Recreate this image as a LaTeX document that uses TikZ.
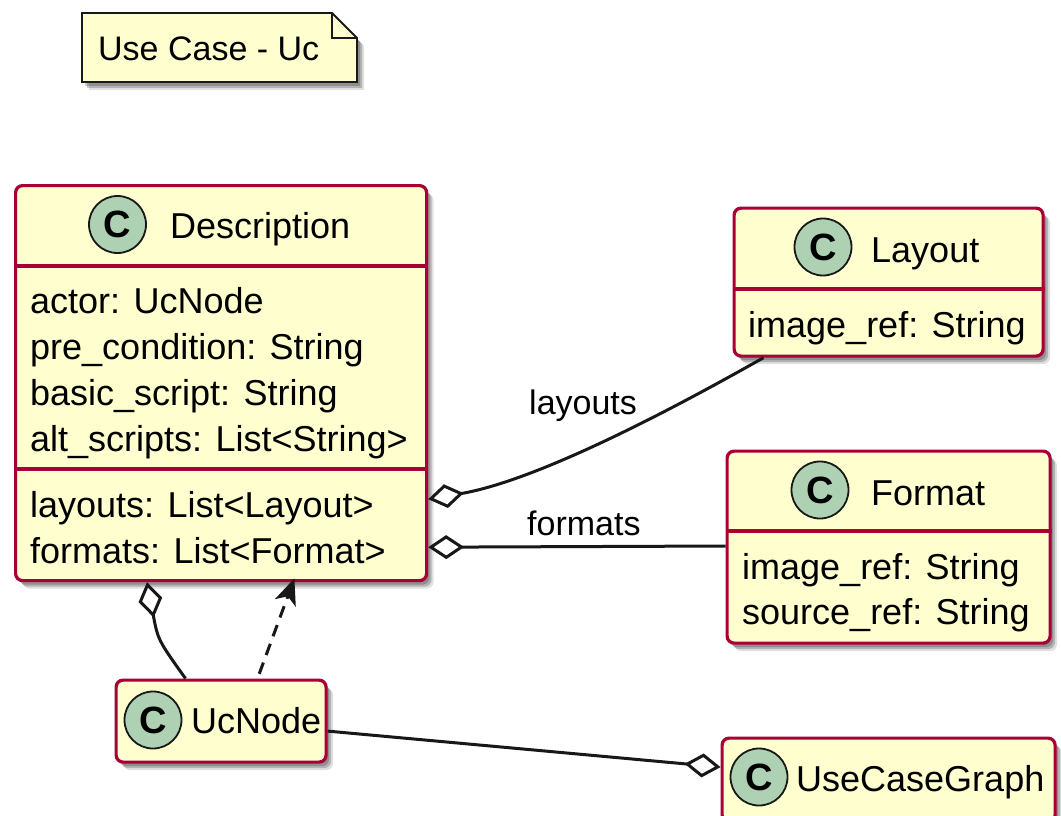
\documentclass[tikz,border=0pt]{standalone}
\usepackage{fontspec}
\setmainfont{Liberation Sans}
\usetikzlibrary{arrows.meta,shadows,calc}
\definecolor{clsfill}{HTML}{FEFECE}
\definecolor{clsborder}{HTML}{A80036}
\definecolor{badgefill}{HTML}{ADD1B2}
\definecolor{ink}{HTML}{181818}
\begin{document}
\begin{tikzpicture}[x=1pt,y=-1pt,
  shade/.style={drop shadow={shadow xshift=7pt,shadow yshift=-8pt,opacity=0.12,fill=black},
                drop shadow={shadow xshift=5pt,shadow yshift=-6pt,opacity=0.2,fill=black},
                drop shadow={shadow xshift=3pt,shadow yshift=-4pt,opacity=0.2,fill=black}},
  classbox/.style={draw=clsborder, line width=3.2pt, fill=clsfill, rounded corners=7pt,
    inner sep=0pt, anchor=north west, shade},
  sepline/.style={draw=clsborder, line width=3.2pt},
  badge/.style={circle, draw=ink, line width=1.8pt, fill=badgefill, minimum size=57pt,
    inner sep=0pt, font=\fontsize{38}{38}\selectfont\bfseries},
  txt/.style={anchor=base west, inner sep=0pt, font=\fontsize{36}{44}\selectfont},
  lbl/.style={anchor=base west, inner sep=0pt, font=\fontsize{34}{40}\selectfont},
  conn/.style={draw=ink, line width=3pt},
  aggstart/.style={conn, {Diamond[open,length=36pt,width=24pt]}-},
  aggend/.style={conn, -{Diamond[open,length=36pt,width=24pt]}},
  depend/.style={conn, dashed, dash pattern=on 12pt off 8pt, -{Stealth[length=26pt,width=22pt,inset=7pt]}}
]
\clip (0,0) rectangle (1061,816);
\fill[white] (0,0) rectangle (1061,816);

% note
\draw[ink, line width=1.8pt, fill=clsfill, shade]
  (82,13) -- (332,13) -- (357,38) -- (357,82) -- (82,82) -- cycle;
\draw[ink, line width=1.8pt] (332,13) -- (332,38) -- (357,38);
\node[lbl] (note) at (98,61) {Use Case - Uc};

% Description
\node[classbox, minimum width=411pt, minimum height=395pt] (desc) at (14,184) {};
\draw[sepline] (desc.west |- 0,266) -- (desc.east |- 0,266);
\draw[sepline] (desc.west |- 0,469) -- (desc.east |- 0,469);
\node[badge] (descC) at (117.5,224.5) {C};
\node[txt] (descT) at (170,238) {Description};
\node[txt] (a1) at (30,313) {actor: UcNode};
\node[txt] (a2) at (30,359) {pre\_condition: String};
\node[txt] (a3) at (30,405) {basic\_script: String};
\node[txt] (a4) at (30,451) {alt\_scripts: List<String>};
\node[txt] (a5) at (30,517) {layouts: List<Layout>};
\node[txt] (a6) at (30,563) {formats: List<Format>};

% Layout
\node[classbox, minimum width=309pt, minimum height=148pt] (lay) at (732.5,206.5) {};
\draw[sepline] (lay.west |- 0,289) -- (lay.east |- 0,289);
\node[badge] (layC) at (823,247) {C};
\node[txt] (layT) at (871,262) {Layout};
\node[txt] (l1) at (748,337) {image\_ref: String};

% Format
\node[classbox, minimum width=323pt, minimum height=192pt] (fmt) at (725.5,449.5) {};
\draw[sepline] (fmt.west |- 0,531) -- (fmt.east |- 0,531);
\node[badge] (fmtC) at (820,490) {C};
\node[txt] (fmtT) at (871,505) {Format};
\node[txt] (f1) at (742,579) {image\_ref: String};
\node[txt] (f2) at (742,624) {source\_ref: String};

% UcNode
\node[classbox, minimum width=210pt, minimum height=82pt] (uc) at (114.5,678.5) {};
\node[badge] (ucC) at (153,720) {C};
\node[txt] (ucT) at (191,733) {UcNode};

% UseCaseGraph
\node[classbox, minimum width=333pt, minimum height=84pt] (ucg) at (720.5,736.5) {};
\node[badge] (ucgC) at (759,777) {C};
\node[txt] (ucgT) at (796,791) {UseCaseGraph};

% connectors
\draw[aggstart] ([yshift=83pt]desc.south east) .. controls (540,480) and (680,405) .. ([xshift=31pt]lay.south west);
\node[lbl] (layoutsL) at (529,414) {layouts};
\draw[aggstart] ([yshift=35pt]desc.south east) -- (fmt.west |- 0,546);
\node[lbl] (formatsL) at (527,535) {formats};
\draw[aggstart] ([xshift=133pt]desc.south west) .. controls (158,640) .. ([xshift=71pt]uc.north west);
\draw[depend, shorten <=5pt, shorten >=-4pt] ([xshift=143pt]uc.north west) -- ([xshift=279pt]desc.south west);
\draw[aggend] ([yshift=-10pt]uc.east) -- ([yshift=13pt]ucg.west);
\end{tikzpicture}
\end{document}
